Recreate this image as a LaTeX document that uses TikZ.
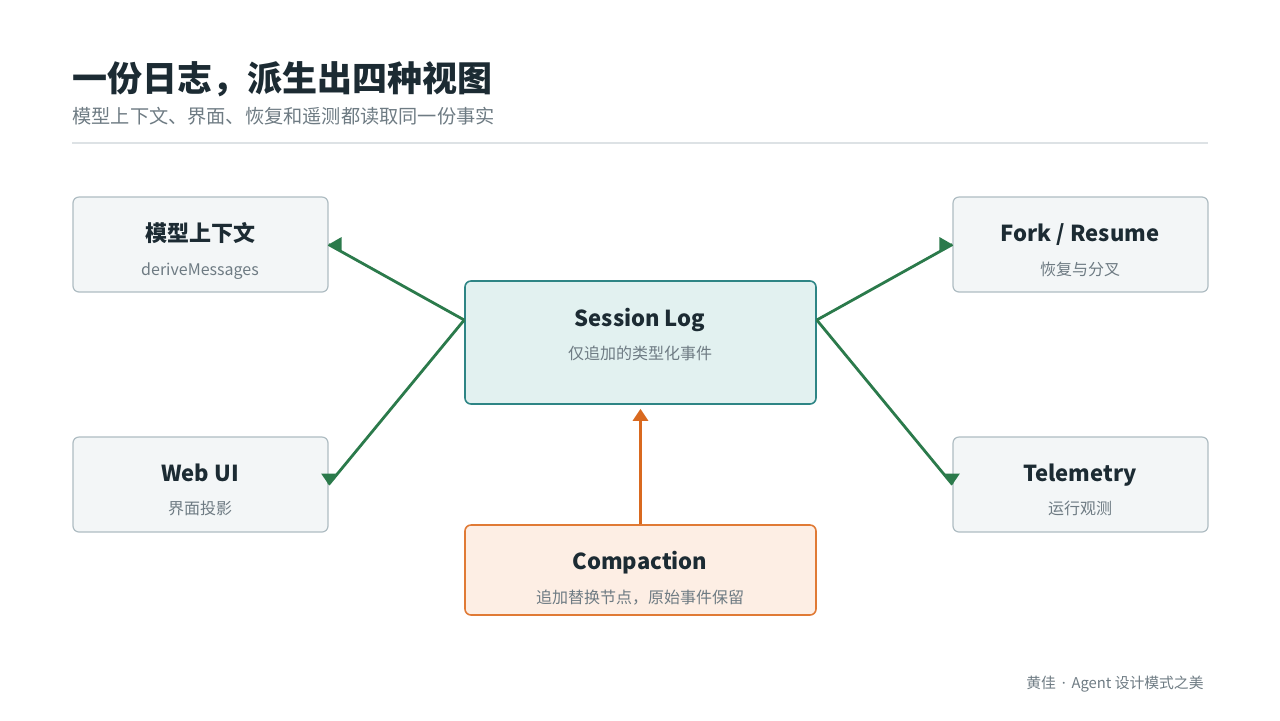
\documentclass[tikz,border=0pt]{standalone}
\usepackage{fontspec}
\setmainfont{Noto Sans CJK SC}
\newfontfamily\dotfont{Noto Sans}
\usepackage{tikz}
\usetikzlibrary{arrows.meta,positioning}

\definecolor{ink}{HTML}{1C2B33}
\definecolor{muted}{HTML}{6E7B83}
\definecolor{rule}{HTML}{DDE2E5}
\definecolor{viewfill}{HTML}{F3F6F7}
\definecolor{viewline}{HTML}{AEBCC2}
\definecolor{logfill}{HTML}{E2F1F0}
\definecolor{logline}{HTML}{2E8585}
\definecolor{cmpfill}{HTML}{FDEEE4}
\definecolor{cmpline}{HTML}{E07A35}
\definecolor{flow}{HTML}{2B7A4B}
\definecolor{feed}{HTML}{D9691F}

\begin{document}
\begin{tikzpicture}[x=0.5pt, y=-0.5pt,
      box/.style={draw, rounded corners=3pt, line width=0.6pt, inner sep=0pt},
      view/.style={box, fill=viewfill, draw=viewline, minimum width=127.5pt, minimum height=47.5pt},
      logbox/.style={box, fill=logfill, draw=logline, line width=0.8pt, minimum width=175.5pt, minimum height=61.5pt},
      cmpbox/.style={box, fill=cmpfill, draw=cmpline, line width=0.8pt, minimum width=175.5pt, minimum height=45pt},
      head/.style={anchor=base, text=ink, inner sep=0pt, font=\bfseries\fontsize{11}{13}\selectfont},
      note/.style={anchor=base, text=muted, inner sep=0pt, font=\fontsize{8}{10}\selectfont},
      flowline/.style={draw=flow, line width=1.4pt},
      flowtip/.style={fill=flow},
      feedarrow/.style={draw=feed, line width=1.4pt, -{Triangle[length=6pt,width=7.5pt]}}]
    \useasboundingbox (0,0) rectangle (1280,720);

    % header
    \node[anchor=west, text=ink, font=\bfseries\fontsize{17.5}{20}\selectfont, inner sep=0pt] (title) at (72,79) {一份日志，派生出四种视图};
    \node[anchor=west, text=muted, font=\fontsize{9.6}{12}\selectfont, inner sep=0pt] (subtitle) at (72,116) {模型上下文、界面、恢复和遥测都读取同一份事实};
    \draw[rule, line width=0.6pt] (72,143) -- (1208,143);

    % the log
    \node[logbox] (log) at (640.5,342.5) {};
    \node[head] (logT) at (640,326) {Session Log};
    \node[note] (logS) at (640,359) {仅追加的类型化事件};
    \coordinate (logW) at ([yshift=11.25pt]log.west);
    \coordinate (logE) at ([yshift=11.25pt]log.east);

    % views
    \node[view] (ctx) at (200.5,244.5) {};
    \node[head] (ctxT) at (200,241) {模型上下文};
    \node[note] (ctxS) at (200,275) {deriveMessages};

    \node[view] (web) at (200.5,484.5) {};
    \node[head] (webT) at (200,481) {Web UI};
    \node[note] (webS) at (200,514) {界面投影};

    \node[view] (fork) at (1080.5,244.5) {};
    \node[head] (forkT) at (1080,241) {Fork / Resume};
    \node[note] (forkS) at (1080,275) {恢复与分叉};

    \node[view] (tele) at (1080.5,484.5) {};
    \node[head] (teleT) at (1080,481) {Telemetry};
    \node[note] (teleS) at (1080,514) {运行观测};

    % compaction
    \node[cmpbox] (cmp) at (640.5,570) {};
    \node[head] (cmpT) at (640,569) {Compaction};
    \node[note] (cmpS) at (640,603) {追加替换节点，原始事件保留};

    % connectors
    \draw[flowline] (logW) -- (ctx.east);
    \draw[flowline] (logW) -- (web.east);
    \draw[flowline] (logE) -- (fork.west);
    \draw[flowline] (logE) -- (tele.west);
    \fill[flowtip] (ctx.east) -- ++(13,-7.5) -- ++(0,15) -- cycle;
    \fill[flowtip] (web.east) -- ++(-7.5,-11) -- ++(15,0) -- cycle;
    \fill[flowtip] (fork.west) -- ++(-13,-7.5) -- ++(0,15) -- cycle;
    \fill[flowtip] (tele.west) -- ++(-7.5,-11) -- ++(15,0) -- cycle;
    \draw[feedarrow] (cmp.north) -- ([yshift=-2pt]log.south);

    % footer
    \node[anchor=east, text=muted, font=\fontsize{7.4}{9}\selectfont, inner sep=0pt] (credit) at (1204,684) {黄佳 {\dotfont\,·\,} Agent 设计模式之美};
\end{tikzpicture}
\end{document}
